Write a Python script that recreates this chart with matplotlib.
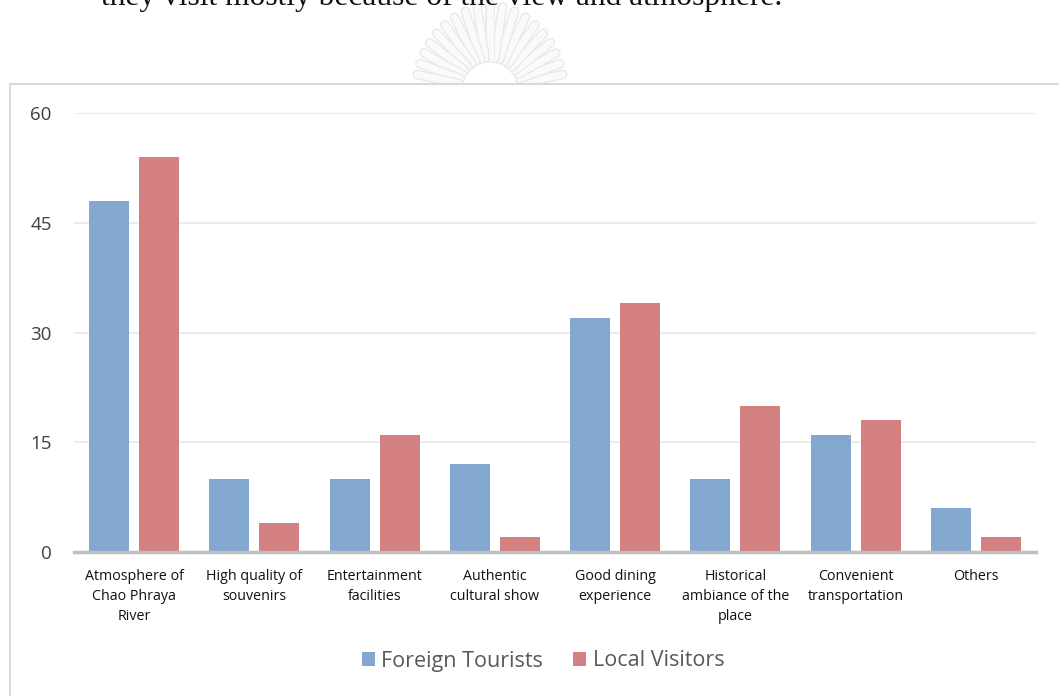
import matplotlib.pyplot as plt
from matplotlib.patches import Rectangle
from matplotlib.lines import Line2D
import matplotlib.patheffects as pe
import numpy as np

categories = ["Atmosphere of\nChao Phraya\nRiver", "High quality of\nsouvenirs",
              "Entertainment\nfacilities", "Authentic\ncultural show",
              "Good dining\nexperience", "Historical\nambiance of the\nplace",
              "Convenient\ntransportation", "Others"]
foreign = [48, 10, 10, 12, 32, 10, 16, 6]
local = [54, 4, 16, 2, 34, 20, 18, 2]
yticks = [0, 15, 30, 45, 60]

blue = "#84a7cf"
red = "#d48080"

W, H = 1059, 696
fig = plt.figure(figsize=(W / 100, H / 100), dpi=100)

# faint emblem printed behind the page text
cx, cy = 490, 90
for ang in np.linspace(12, 168, 19):
    a = np.radians(ang)
    r0, r1 = 32, 86 - 12 * abs(np.cos(a))
    xs = [cx + r0 * np.cos(a), cx + r1 * np.cos(a)]
    ys = [cy - r0 * np.sin(a), cy - r1 * np.sin(a)]
    ray = Line2D([v / W for v in xs], [1 - v / H for v in ys], transform=fig.transFigure,
                 color="#fafafa", lw=5, solid_capstyle="round", zorder=-3,
                 path_effects=[pe.Stroke(linewidth=7, foreground="#e9e9e9"), pe.Normal()])
    fig.lines.append(ray)

# outer chart frame (runs off the page on the right and bottom)
fig.patches.append(Rectangle((10 / W, -0.1), 1.2, (H - 84) / H + 0.1,
                             transform=fig.transFigure, facecolor="white",
                             edgecolor="#d9d9d9", linewidth=1.5, zorder=-1))

# caption line from the surrounding page, clipped at the top
fig.text(101 / W, 1 - 5 / H, "they visit mostly because of the view and atmosphere.",
         family="Liberation Serif", fontsize=22.7, color="#111111", va="baseline")

ax = fig.add_axes([74 / W, 1 - 552 / H, (1036 - 74) / W, (552 - 113) / H])
ax.patch.set_alpha(0)
x = np.arange(len(categories))
bw = 0.333
ax.bar(x - 0.208, foreign, bw, color=blue, label="Foreign Tourists", zorder=3)
ax.bar(x + 0.208, local, bw, color=red, label="Local Visitors", zorder=3)

ax.set_xlim(-0.5, len(categories) - 0.5)
ax.set_ylim(0, 60)
ax.set_yticks(yticks)
ax.set_yticklabels([str(v) for v in yticks], family="Open Sans", fontsize=13.5, color="#404040")
ax.set_xticks(x)
ax.set_xticklabels(categories, family="Open Sans", fontsize=10.3, color="#111111", linespacing=1.46)
ax.tick_params(axis="both", length=0)
ax.tick_params(axis="y", pad=16)
ax.tick_params(axis="x", pad=12)
ax.yaxis.grid(True, color="#ececec", linewidth=1.5, zorder=0)
for s in ["top", "right", "left"]:
    ax.spines[s].set_visible(False)
ax.spines["bottom"].set_color("#bfbfbf")
ax.spines["bottom"].set_linewidth(2.5)
ax.spines["bottom"].set_zorder(4)

fig.legend(loc="center", bbox_to_anchor=(543 / W, 1 - 661 / H), ncol=2, frameon=False,
           handlelength=0.6, handleheight=0.6, handletextpad=0.3, columnspacing=1.4,
           prop={"family": "Open Sans", "size": 15.5}, labelcolor="#595959")

fig.savefig("out.png", dpi=100)
